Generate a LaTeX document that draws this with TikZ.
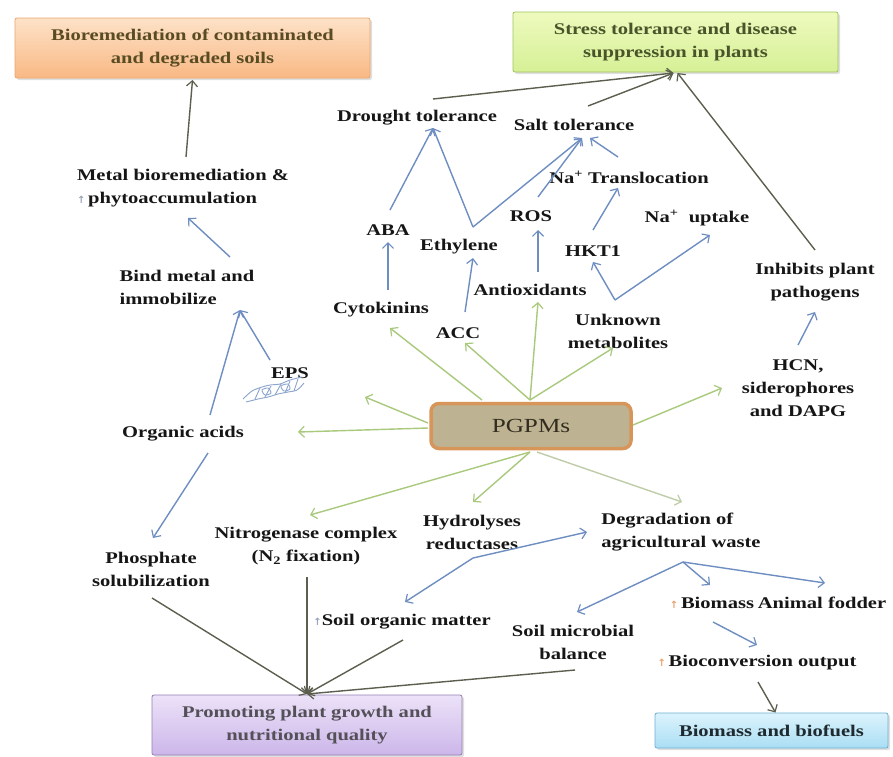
\documentclass[tikz,border=0pt]{standalone}
\usepackage{fontspec}
\setmainfont{Liberation Serif}[FakeStretch=1.26]
\newfontfamily\symfont{DejaVu Sans}
\usetikzlibrary{arrows.meta,calc,shadows}
\definecolor{garrc}{HTML}{A9C97C}
\definecolor{garrl}{HTML}{BFCCA8}
\definecolor{barrc}{HTML}{6E8EC2}
\definecolor{darrc}{HTML}{5C5E4E}
\definecolor{txtc}{HTML}{161616}
\definecolor{upgray}{HTML}{9AA4B8}
\definecolor{uporange}{HTML}{E8A26E}
\definecolor{biotxt}{HTML}{5A4C22}
\definecolor{strtxt}{HTML}{48552A}
\definecolor{promtxt}{HTML}{545058}
\definecolor{bbtxt}{HTML}{1E2A30}
\newcommand{\upg}{{\symfont\fontsize{10}{10}\selectfont\color{upgray}↑}}
\newcommand{\upo}{{\symfont\fontsize{10}{10}\selectfont\color{uporange}↑}}
\tikzset{
  txt/.style={font=\bfseries\fontsize{16.3}{23}\selectfont, text=txtc, inner sep=1pt, align=center},
  outbox/.style={font=\bfseries\fontsize{16.3}{23}\selectfont, align=center, inner sep=0pt, rounded corners=2pt, line width=0.8pt,
    drop shadow={opacity=0.25, shadow xshift=2pt, shadow yshift=-2pt}},
  tip/.style={-{Straight Barb[length=5.5pt,width=11pt,line width=1.2pt]}},
  garr/.style={draw=garrc, line width=1.4pt, tip},
  gl/.style={draw=garrl, line width=1.4pt, tip},
  barr/.style={draw=barrc, line width=1.4pt, tip},
  darr/.style={draw=darrc, line width=1.4pt, tip},
}
\begin{document}
\begin{tikzpicture}[x=1pt,y=-1pt]
\fill[white] (0,0) rectangle (893,756);
\useasboundingbox (0,0) rectangle (893,756);

% outcome boxes
\node[outbox, draw={rgb,255:red,232;green,168;blue,112}, top color={rgb,255:red,253;green,226;blue,200}, bottom color={rgb,255:red,249;green,184;blue,132}, text=biotxt,
  minimum width=355pt, minimum height=60pt] (bio) at (192.5,48) {Bioremediation of contaminated\\and degraded soils};
\node[outbox, draw={rgb,255:red,160;green,196;blue,96}, top color={rgb,255:red,238;green,250;blue,190}, bottom color={rgb,255:red,214;green,240;blue,150}, text=strtxt,
  minimum width=325pt, minimum height=60pt] (stress) at (675.5,42) {Stress tolerance and disease\\suppression in plants};
\node[outbox, draw={rgb,255:red,150;green,128;blue,180}, top color={rgb,255:red,236;green,226;blue,248}, bottom color={rgb,255:red,204;green,182;blue,234}, text=promtxt,
  minimum width=310pt, minimum height=60pt] (prom) at (307,725) {Promoting plant growth and\\nutritional quality};
\node[outbox, draw={rgb,255:red,110;green,176;blue,208}, top color={rgb,255:red,220;green,243;blue,252}, bottom color={rgb,255:red,170;green,222;blue,244}, text=bbtxt,
  minimum width=233pt, minimum height=35pt] (biobox) at (771.5,730.5) {Biomass and biofuels};

% central box
\node[draw={rgb,255:red,216;green,149;blue,90}, line width=3.5pt, fill={rgb,255:red,189;green,179;blue,147},
  rounded corners=8pt, minimum width=200pt, minimum height=45pt, text={rgb,255:red,50;green,45;blue,30},
  font=\fontsize{20}{22}\selectfont] (pgpm) at (531,426) {PGPMs};

% text nodes
\node[txt, align=left] (metal) at (183,188) {Metal bioremediation \&\\\upg\,phytoaccumulation};
\node[txt, align=left] (bind) at (187,287) {Bind metal and\\immobilize};
\node[txt] (eps) at (290,373) {EPS};
\node[txt] (org) at (183,434) {Organic acids};
\node[txt] (phos) at (151,569) {Phosphate\\solubilization};
\node[txt] (nitro) at (306,546) {Nitrogenase complex\\(N\textsubscript{2} fixation)};
\node[txt] (hydro) at (472,532) {Hydrolyses\\reductases};
\node[txt, align=left] (degr) at (681,532) {Degradation of\\agricultural waste};
\node[txt] (som) at (402,622) {\upg Soil organic matter};
\node[txt] (smb) at (573,642) {Soil microbial\\balance};
\node[txt] (biomass) at (712,603) {\upo\,Biomass};
\node[txt] (fodder) at (822,603) {Animal fodder};
\node[txt] (biocon) at (757,663) {\upo\,Bioconversion output};
\node[txt] (hcn) at (798,388) {HCN,\\siderophores\\and DAPG};
\node[txt] (inhib) at (815,282) {Inhibits plant\\pathogens};
\node[txt] (unk) at (618,331) {Unknown\\metabolites};
\node[txt] (antiox) at (530,290) {Antioxidants};
\node[txt] (acc) at (458,333) {ACC};
\node[txt] (cyto) at (381,310) {Cytokinins};
\node[txt] (eth) at (459,247) {Ethylene};
\node[txt] (aba) at (388,230) {ABA};
\node[txt] (hkt) at (593,251) {HKT1};
\node[txt] (ros) at (531,216) {ROS};
\node[txt] (natrans) at (629,177) {Na\textsuperscript{+} Translocation};
\node[txt] (naup) at (697,218) {Na\textsuperscript{+}~ uptake};
\node[txt] (salt) at (574,125) {Salt tolerance};
\node[txt] (drought) at (417,118) {Drought tolerance};

% EPS squiggle
\begin{scope}[draw=barrc!80, line width=0.9pt]
\draw plot[smooth] coordinates {(243,399) (252,391) (262,387) (270,385) (280,384) (290,380) (302,377)};
\draw plot[smooth] coordinates {(246,402) (258,399) (268,397) (278,394) (288,392) (297,390) (304,383)};
\draw (255,399) -- (260,388) (265,397) -- (271,386) (275,395) -- (281,384) (285,393) -- (290,381) (294,391) -- (298,379);
\draw plot[smooth cycle] coordinates {(262,390) (268,388) (271,393) (265,395)};
\draw plot[smooth cycle] coordinates {(281,386) (288,384) (290,389) (284,391)};
\end{scope}

% vertices
\coordinate (E) at ($(eth)+(14,-20)$);
\coordinate (U) at ($(unk)+(-3,-31)$);
\coordinate (H) at ($(hydro)+(1,26)$);
\coordinate (D) at ($(degr)+(2,30)$);
\coordinate (P1) at ($(pgpm)+(-1,-26)$);
\coordinate (P2) at ($(pgpm)+(-1,26)$);
\coordinate (P3) at ($(pgpm)+(6,26)$);

% dark arrows
\draw[darr] ($(metal)+(3,-31)$) -- ($(bio)+(0,32)$);
\draw[darr] ($(drought)+(16,-19)$) -- ($(stress)+(-2,31)$);
\draw[darr] ($(salt)+(14,-19)$) -- ($(stress)+(-2,31)$);
\draw[darr] ($(inhib)+(0,-32)$) -- ($(stress)+(2,31)$);
\draw[darr] ($(biocon)+(1,19)$) -- ($(biobox)+(4,-18)$);
\draw[darr] ($(phos)+(1,29)$) -- ($(prom)+(0,-31)$);
\draw[darr] ($(nitro)+(1,31)$) -- ($(prom)+(0,-31)$);
\draw[darr] ($(som)+(1,18)$) -- ($(prom)+(0,-31)$);
\draw[darr] ($(smb)+(2,28)$) -- ($(prom)+(0,-31)$);

% blue arrows
\draw[barr] ($(bind)+(43,-30)$) -- ($(metal)+(5,30)$);
\draw[barr] ($(org)+(27,-19)$) -- ($(bind)+(53,23)$);
\draw[barr] ($(eps)+(-20,-13)$) -- ($(bind)+(53,23)$);
\draw[barr] ($(org)+(25,19)$) -- ($(phos)+(2,-31)$);
\draw[barr] ($(cyto)+(7,-20)$) -- ($(aba)+(0,12)$);
\draw[barr] ($(acc)+(7,-21)$) -- ($(eth)+(14,11)$);
\draw[barr] ($(antiox)+(8,-18)$) -- ($(ros)+(7,14)$);
\draw[barr] ($(aba)+(2,-20)$) -- ($(drought)+(16,10)$);
\draw[barr] (E) -- ($(drought)+(16,10)$);
\draw[barr] (E) -- ($(salt)+(8,13)$);
\draw[barr] ($(ros)+(7,-19)$) -- ($(salt)+(8,13)$);
\draw[barr] ($(natrans)+(-11,-20)$) -- ($(salt)+(16,13)$);
\draw[barr] ($(hkt)+(0,-21)$) -- ($(natrans)+(-11,11)$);
\draw[barr] (U) -- ($(hkt)+(0,11)$);
\draw[barr] (U) -- ($(naup)+(13,17)$);
\draw[barr] ($(hcn)+(0,-43)$) -- ($(inhib)+(0,30)$);
\draw[barr] (H) -- ($(degr)+(-94,0)$);
\draw[barr] (H) -- ($(som)+(3,-20)$);
\draw[barr] (D) -- ($(smb)+(4,-30)$);
\draw[barr] (D) -- ($(biomass)+(-2,-18)$);
\draw[barr] (D) -- ($(fodder)+(3,-20)$);
\draw[barr] ($(biomass)+(1,19)$) -- ($(biocon)+(0,-18)$);

% green arrows
\draw[garr] ($(pgpm)+(-49,-26)$) -- ($(cyto)+(9,18)$);
\draw[garr] (P1) -- ($(acc)+(7,10)$);
\draw[garr] (P1) -- ($(antiox)+(8,12)$);
\draw[garr] (P1) -- ($(unk)+(-5,17)$);
\draw[garr] ($(pgpm)+(-103,-3)$) -- ($(eps)+(75,24)$);
\draw[garr] ($(pgpm)+(-103,2)$) -- ($(org)+(115,-2)$);
\draw[garr] ($(pgpm)+(102,-1)$) -- ($(hcn)+(-76,0)$);
\draw[garr] (P2) -- ($(nitro)+(4,-31)$);
\draw[garr] (P2) -- ($(hydro)+(1,-30)$);
\draw[gl] (P3) -- ($(degr)+(1,-30)$);
\end{tikzpicture}
\end{document}
